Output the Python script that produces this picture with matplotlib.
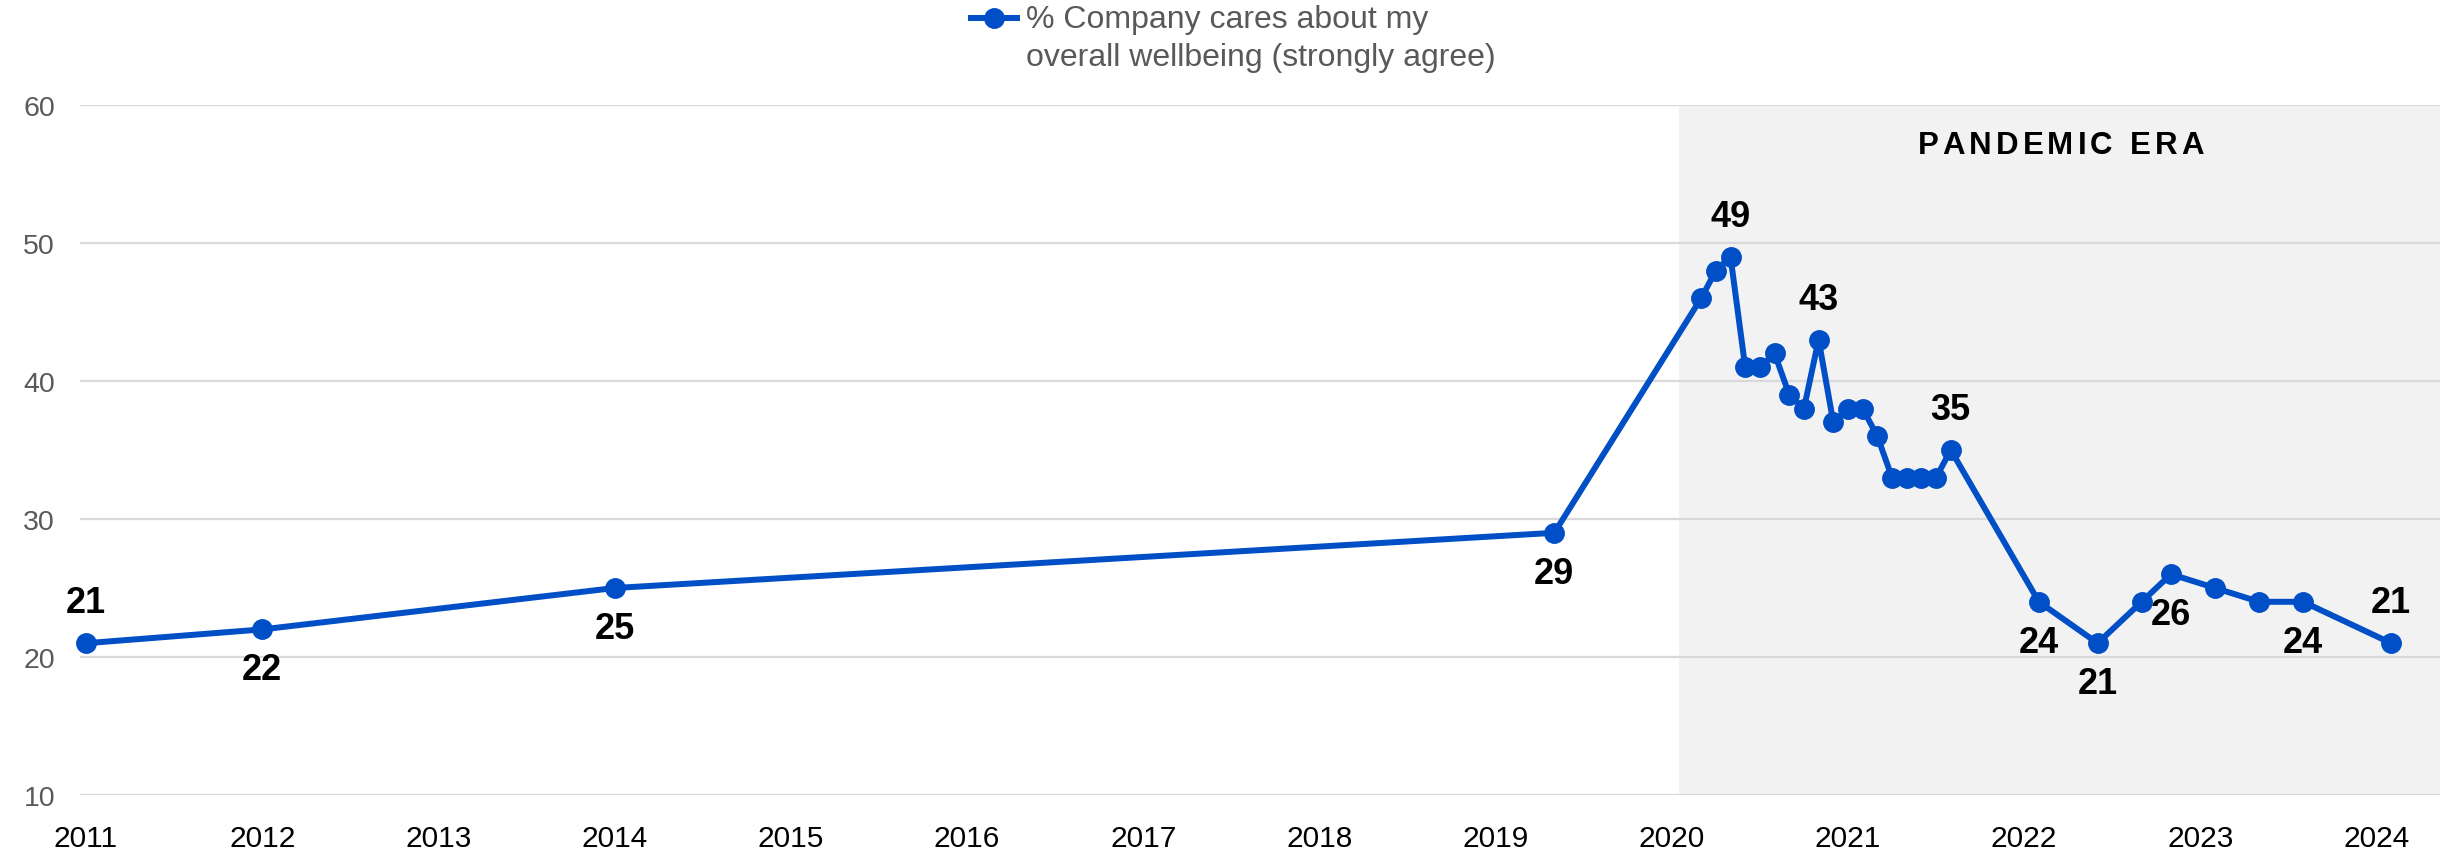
import matplotlib
matplotlib.use("Agg")
import matplotlib.pyplot as plt
from matplotlib.lines import Line2D

# ==========================================================
# DATA
# ==========================================================

years = [2011, 2012, 2014, 2019,
         2020, 2020, 2020, 2020, 2020, 2020, 2020, 2020, 2020, 2020,
         2021, 2021, 2021, 2021, 2021, 2021, 2021, 2021,
         2022, 2022, 2022, 2022,
         2023, 2023, 2023,
         2024]
months = [1, 1, 1, 5,
          3, 4, 5, 6, 7, 8, 9, 10, 11, 12,
          1, 2, 3, 4, 5, 6, 7, 8,
          2, 6, 9, 11,
          2, 5, 8,
          2]
values = [21, 22, 25, 29,
          46, 48, 49, 41, 41, 42, 39, 38, 43, 37,
          38, 38, 36, 33, 33, 33, 33, 35,
          24, 21, 24, 26,
          25, 24, 24,
          21]

# which points get a value label, and on which side
label_idx = [0, 1, 2, 3, 6, 12, 21, 22, 23, 25, 28, 29]
label_side = ["above", "below", "below", "below", "above", "above",
              "above", "below", "below", "below", "below", "above"]

year_ticks = list(range(2011, 2025))
y_ticks = [10, 20, 30, 40, 50, 60]

series_name = "% Company cares about my\noverall wellbeing (strongly agree)"
era_label = "PANDEMIC ERA"
era_start = 2020.04

# ==========================================================
# STYLE
# ==========================================================

BLUE = "#004fc6"
GRAY_TXT = "#595959"
GRID = "#d9d9d9"
SHADE = "#f2f2f2"

plt.rcParams["font.family"] = ["Liberation Sans", "DejaVu Sans"]

x = [y + (m - 1) / 12 for y, m in zip(years, months)]

fig = plt.figure(figsize=(24.4, 8.54), dpi=100)
ax = fig.add_axes([0.0328, 0.0679, 0.9672, 0.8080])

ax.set_xlim(2010.966, 2024.36)
ax.set_ylim(10, 60)

ax.axvspan(era_start, 2024.36, color=SHADE, zorder=0, lw=0)

ax.set_axisbelow(True)
ax.yaxis.grid(True, color=GRID, linewidth=1.6)
ax.xaxis.grid(False)
for s in ax.spines.values():
    s.set_visible(False)

ax.plot(x, values, color=BLUE, linewidth=4.3, marker="o",
        markersize=14, zorder=3, solid_joinstyle="round", clip_on=False)

for i, side in zip(label_idx, label_side):
    dy = 29 if side == "above" else -29
    ax.annotate(str(values[i]), (x[i], values[i]),
                xytext=(0, dy), textcoords="offset points",
                ha="center", va="center",
                fontsize=26, fontweight="bold", color="black", zorder=4)

ax.set_xticks(year_ticks)
ax.set_xticklabels([str(v) for v in year_ticks])
ax.set_yticks(y_ticks)
ax.tick_params(axis="x", length=0, pad=21, labelsize=21.5, labelcolor="black")
ax.tick_params(axis="y", length=0, pad=18, labelsize=20.5, labelcolor=GRAY_TXT)

# ==========================================================
# PANDEMIC ERA (letter spaced)
# ==========================================================

fig.canvas.draw()
renderer = fig.canvas.get_renderer()
track = 4.0
widths = []
for ch in era_label:
    t = fig.text(0, 0, ch if ch != " " else "E", fontsize=22.5, fontweight="bold")
    w = t.get_window_extent(renderer).width
    if ch == " ":
        w *= 0.45
    widths.append(w)
    t.remove()
total = sum(widths) + track * (len(widths) - 1)
cx, cy = 2061, 854 - 146
px = cx - total / 2
for ch, w in zip(era_label, widths):
    if ch != " ":
        fig.text(px / 2440, cy / 854, ch, fontsize=22.5, fontweight="bold",
                 color="black", ha="left", va="center")
    px += w + track

# ==========================================================
# LEGEND
# ==========================================================

ly = 1 - 19 / 854
fig.add_artist(Line2D([971 / 2440, 1017 / 2440], [ly, ly], color=BLUE,
                      linewidth=4.3, transform=fig.transFigure))
fig.add_artist(Line2D([994 / 2440], [ly], color=BLUE, marker="o",
                      markersize=14, linestyle="none",
                      transform=fig.transFigure))
lines = series_name.split("\n")
fig.text(1026 / 2440, 1 - 20 / 854, lines[0], fontsize=23,
         color=GRAY_TXT, ha="left", va="center")
fig.text(1026 / 2440, 1 - 58 / 854, lines[1], fontsize=23,
         color=GRAY_TXT, ha="left", va="center")

fig.savefig("out.png", dpi=100)
